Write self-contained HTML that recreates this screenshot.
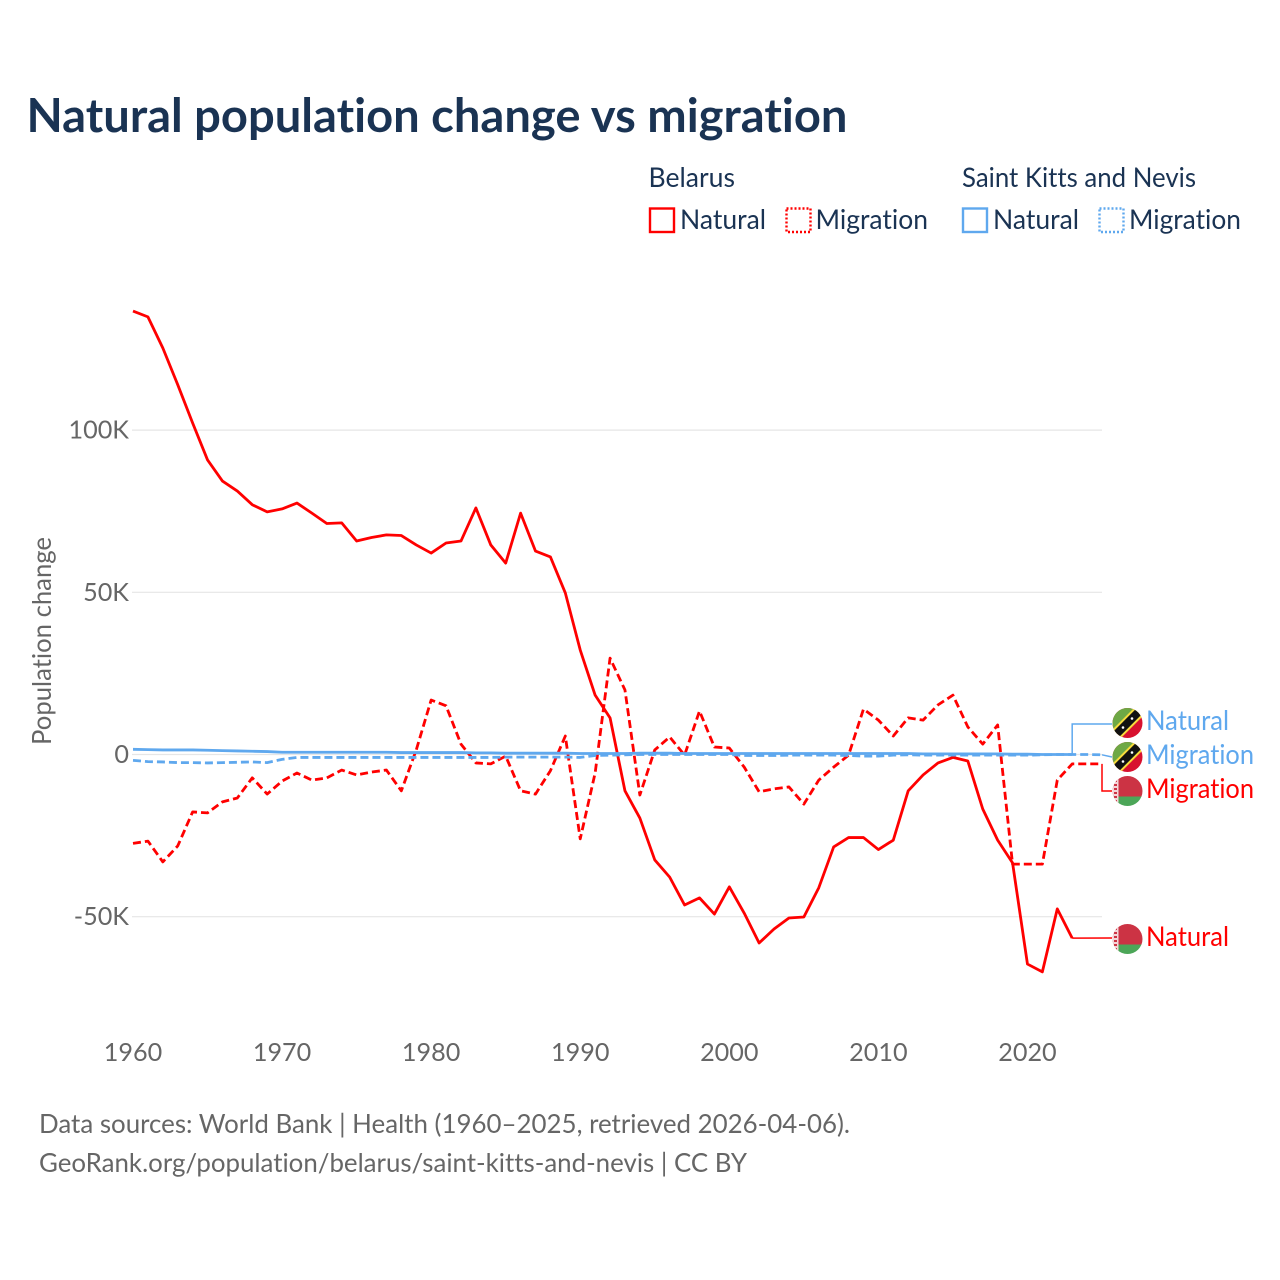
<!DOCTYPE html>
<html lang="en">
<head>
<meta charset="utf-8">
<title>Natural population change vs migration</title>
<style>
html,body{margin:0;padding:0;background:#fff;}
svg{display:block;}
text{font-family:"Lato","Carlito","Liberation Sans",sans-serif;font-variant-ligatures:none;font-feature-settings:"liga" 0,"clig" 0;}
</style>
</head>
<body>
<svg id="chart" xmlns="http://www.w3.org/2000/svg" width="1280" height="1280" viewBox="0 0 1280 1280">
<defs>
<clipPath id="flag-clip"><circle cx="0" cy="0" r="15"/></clipPath>
<g id="flag-skn" clip-path="url(#flag-clip)">
<rect x="-15" y="-15" width="30" height="30" fill="#d8112f"/>
<polygon points="-15,-15 15,-15 -15,15" fill="#6ea845"/>
<line x1="-15" y1="15" x2="15" y2="-15" stroke="#f7dc3c" stroke-width="12"/>
<line x1="-15" y1="15" x2="15" y2="-15" stroke="#111" stroke-width="8"/>
<circle cx="-4.5" cy="4.5" r="1.3" fill="#fff"/>
<circle cx="4.5" cy="-4.500" r="1.3" fill="#fff"/>
</g>
<g id="flag-by" clip-path="url(#flag-clip)">
<rect x="-15" y="-15" width="30" height="20.5" fill="#cc3344"/>
<rect x="-15" y="5.5" width="30" height="10" fill="#4ca658"/>
<rect x="-15" y="-15" width="6" height="30" fill="#f3d6d8"/>
<line x1="-12" y1="-15" x2="-12" y2="15" stroke="#cc3344" stroke-width="3" stroke-dasharray="2 2"/>
</g>
</defs>
<rect x="0" y="0" width="1280" height="1280" fill="#fff"/>
<text x="26.500" y="132" font-size="47" font-weight="700" fill="#1a3353" textLength="821" lengthAdjust="spacingAndGlyphs">Natural population change vs migration</text>

<g font-size="27" fill="#1a3353">
<text x="648.500" y="187" textLength="86.500" lengthAdjust="spacingAndGlyphs">Belarus</text>
<g>
<rect x="650" y="208.500" width="24" height="23.500" fill="none" stroke="#ff0000" stroke-width="2.400"/>
<text x="680" y="229" textLength="86" lengthAdjust="spacingAndGlyphs">Natural</text>
</g>
<g>
<rect x="786.500" y="208.500" width="24" height="23.500" fill="none" stroke="#ff0000" stroke-width="2.400" stroke-dasharray="2 2"/>
<text x="815.500" y="229" textLength="112.500" lengthAdjust="spacingAndGlyphs">Migration</text>
</g>
<text x="962" y="187" textLength="234" lengthAdjust="spacingAndGlyphs">Saint Kitts and Nevis</text>
<g>
<rect x="963" y="208.500" width="24" height="23.500" fill="none" stroke="#5fa8ee" stroke-width="2.400"/>
<text x="993" y="229" textLength="86" lengthAdjust="spacingAndGlyphs">Natural</text>
</g>
<g>
<rect x="1099.500" y="208.500" width="24" height="23.500" fill="none" stroke="#5fa8ee" stroke-width="2.400" stroke-dasharray="2 2"/>
<text x="1129" y="229" textLength="112" lengthAdjust="spacingAndGlyphs">Migration</text>
</g>
</g>

<text transform="translate(51,641) rotate(-90)" text-anchor="middle" font-size="26" fill="#666" textLength="208" lengthAdjust="spacingAndGlyphs">Population change</text>

<g id="grid"></g>
<g id="xticks"></g>
<g id="yticks"></g>
<g id="series"></g>
<g id="leaders"></g>

<use href="#flag-skn" transform="translate(1127.500,723)"/>
<use href="#flag-skn" transform="translate(1127.500,757)"/>
<use href="#flag-by" transform="translate(1127.500,791)"/>
<use href="#flag-by" transform="translate(1127.500,939)"/>

<text x="1146" y="730" font-size="27" fill="#5fa8ee" textLength="83" lengthAdjust="spacingAndGlyphs">Natural</text>
<text x="1146" y="764" font-size="27" fill="#5fa8ee" textLength="108" lengthAdjust="spacingAndGlyphs">Migration</text>
<text x="1146" y="798" font-size="27" fill="#ff0000" textLength="108" lengthAdjust="spacingAndGlyphs">Migration</text>
<text x="1146" y="946" font-size="27" fill="#ff0000" textLength="83" lengthAdjust="spacingAndGlyphs">Natural</text>

<text x="39" y="1133" font-size="26" fill="#666" textLength="811" lengthAdjust="spacingAndGlyphs">Data sources: World Bank | Health (1960–2025, retrieved 2026-04-06).</text>
<text x="39" y="1172" font-size="26" fill="#666" textLength="708" lengthAdjust="spacingAndGlyphs">GeoRank.org/population/belarus/saint-kitts-and-nevis | CC BY</text>
</svg>
<script>
const startYear = 1960;
const xTickYears = [1960, 1970, 1980, 1990, 2000, 2010, 2020];
const yTickValues = [100, 50, 0, -50];
const yTickLabels = ["100K", "50K", "0", "-50K"];
// Values in thousands, one per year from 1960.
const belarusNatural = [136.7,134.9,125.3,114,102.2,90.8,84.3,81.2,77,74.8,75.7,77.5,74.4,71.2,71.4,65.8,66.9,67.7,67.5,64.6,62.1,65.2,65.8,76,64.6,59,74.4,62.7,60.9,49.8,32.2,18.3,11.3,-11.2,-19.6,-32.5,-37.8,-46.4,-44.2,-49.2,-40.8,-48.9,-58.1,-53.8,-50.4,-50.1,-41.1,-28.5,-25.6,-25.6,-29.3,-26.4,-11.2,-6.3,-2.6,-0.9,-2,-16.8,-26.4,-33.4,-64.6,-67,-47.6,-56.6];
const belarusMigration = [-27.4,-26.7,-33.1,-28.2,-17.7,-18,-14.6,-13.4,-7.2,-12.2,-8.2,-5.7,-7.9,-7.2,-4.8,-6.3,-5.4,-4.8,-11.2,1.4,16.8,15,3.2,-2.6,-2.9,-0.5,-11.2,-12.2,-5,5.7,-26,-5.7,29.7,19.9,-12.5,1.4,5.4,-0.2,13.4,2.3,2,-3.9,-11.5,-10.6,-10,-15.3,-7.9,-3.9,-0.2,14,10.6,5.7,11.3,10.6,15.3,18.3,8.5,3.2,9.1,-33.8,-33.8,-33.8,-7.9,-2.9,-2.9,-2.9];
const sknNatural = [1.6,1.5,1.4,1.4,1.4,1.3,1.2,1.1,1,0.9,0.7,0.7,0.7,0.7,0.7,0.7,0.7,0.7,0.6,0.6,0.6,0.6,0.6,0.5,0.5,0.4,0.4,0.4,0.4,0.4,0.3,0.3,0.3,0.3,0.4,0.4,0.4,0.3,0.3,0.3,0.3,0.3,0.3,0.3,0.3,0.3,0.3,0.3,0.3,0.3,0.3,0.3,0.3,0.2,0.2,0.2,0.2,0.2,0.2,0.1,0.1,0,0,0];
const sknMigration = [-1.8,-2.2,-2.3,-2.5,-2.5,-2.6,-2.5,-2.4,-2.3,-2.5,-1.5,-0.9,-0.9,-0.9,-0.9,-0.9,-0.9,-0.9,-0.9,-0.9,-0.9,-0.9,-0.9,-0.9,-0.9,-0.8,-0.8,-0.8,-0.8,-0.8,-0.9,-0.3,-0.2,-0.1,0,0,0,0,0,0,0,-0.3,-0.3,-0.3,-0.2,-0.2,-0.2,-0.2,-0.3,-0.5,-0.5,-0.2,-0.1,-0.2,-0.2,-0.2,-0.2,-0.2,-0.2,-0.2,-0.2,-0.1,0,0,0,-0.1];

const SVGNS = "http://www.w3.org/2000/svg";
const plotLeft = 133, plotRight = 1102, zeroY = 754.5, pxPerK = 3.244, pxPerYear = (plotRight - plotLeft) / 65;
function xScale(year) { return plotLeft + (year - startYear) * pxPerYear; }
function yScale(v) { return zeroY - v * pxPerK; }
function make(tag, attrs, parent) {
  const el = document.createElementNS(SVGNS, tag);
  for (const k in attrs) el.setAttribute(k, attrs[k]);
  parent.appendChild(el);
  return el;
}
const gridG = document.getElementById("grid");
const xG = document.getElementById("xticks");
const yG = document.getElementById("yticks");
const seriesG = document.getElementById("series");
const leadersG = document.getElementById("leaders");

yTickValues.forEach(function (v, i) {
  const line = make("line", {x1: plotLeft - 1, x2: plotRight, y1: yScale(v), y2: yScale(v), stroke: "#e6e6e6", "stroke-width": 1.2}, gridG);
  
  
  const t = make("text", {x: 129, y: yScale(v) + 8.5, "text-anchor": "end", "font-size": 25.2, fill: "#666"}, yG);
  
  
  t.textContent = yTickLabels[i];
});
xTickYears.forEach(function (yr) {
  const t = make("text", {x: xScale(yr), y: 1061, "text-anchor": "middle", "font-size": 25.2, fill: "#666"}, xG);
  
  
  t.textContent = String(yr);
});
function drawSeries(values, color, dashed, name) {
  const d = values.map(function (v, i) { return (i ? "L" : "M") + xScale(startYear + i).toFixed(2) + " " + yScale(v).toFixed(2); }).join("");
  const p = make("path", {d: d, fill: "none", stroke: color, "stroke-width": 2.8, "stroke-linejoin": "round"}, seriesG);
  if (dashed) p.setAttribute("stroke-dasharray", "8 4");
  
  
}
function lastPoint(values) {
  const i = values.length - 1;
  return [xScale(startYear + i), yScale(values[i])];
}
function drawLeader(values, bendY, endY, color, name) {
  const e = lastPoint(values);
  const d = "M" + e[0] + " " + e[1] + (bendY === null ? "" : "L" + e[0] + " " + bendY) + "L1112 " + endY;
  const p = make("path", {d: d, fill: "none", stroke: color, "stroke-width": 1.5}, leadersG);
  
  
}
drawSeries(belarusNatural, "#ff0000", false, "line-belarus-natural");
drawSeries(belarusMigration, "#ff0000", true, "line-belarus-migration");
drawSeries(sknMigration, "#5fa8ee", true, "line-skn-migration");
drawSeries(sknNatural, "#5fa8ee", false, "line-skn-natural");
drawLeader(belarusNatural, null, 938, "#ff0000", "leader-belarus-natural");
drawLeader(belarusMigration, 791, 791, "#ff0000", "leader-belarus-migration");
drawLeader(sknNatural, 724, 724, "#5fa8ee", "leader-skn-natural");
drawLeader(sknMigration, null, 757, "#5fa8ee", "leader-skn-migration");
</script>
</body>
</html>
